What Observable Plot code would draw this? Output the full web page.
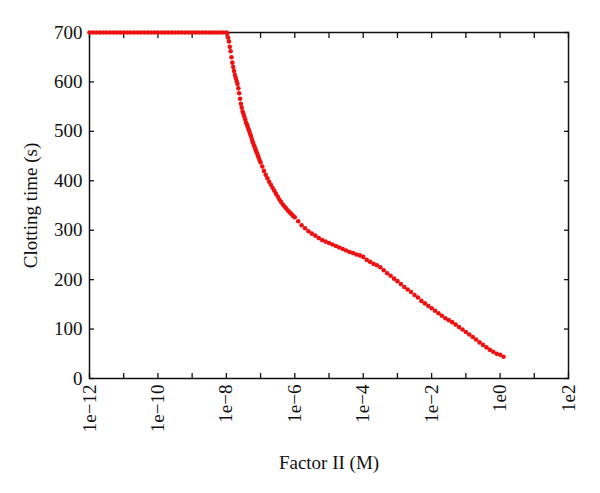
<!DOCTYPE html>
<html>
<head>
<meta charset="utf-8">
<script src="https://cdn.jsdelivr.net/npm/d3@7"></script>
<script src="https://cdn.jsdelivr.net/npm/@observablehq/plot@0.6"></script>
<style>
  html, body { margin: 0; padding: 0; background: #fff; }
  svg { display: block; }
</style>
</head>
<body>
<div id="chart"></div>
<script>
// log10 of Factor II concentration (M)
const exponents = [
  -12.0,-11.9,-11.8,-11.7,-11.6,-11.5,-11.4,-11.3,-11.2,-11.1,
  -11.0,-10.9,-10.8,-10.7,-10.6,-10.5,-10.4,-10.3,-10.2,-10.1,
  -10.0,-9.9,-9.8,-9.7,-9.6,-9.5,-9.4,-9.3,-9.2,-9.1,
  -9.0,-8.9,-8.8,-8.7,-8.6,-8.5,-8.4,-8.3,-8.2,-8.1,
  -8.0,
  -7.975,-7.95,-7.925,-7.9,-7.875,-7.85,-7.825,-7.8,-7.775,-7.75,
  -7.725,-7.7,-7.675,-7.65,-7.625,-7.6,-7.575,-7.55,-7.525,-7.5,
  -7.475,-7.45,-7.425,-7.4,-7.375,-7.35,-7.325,-7.3,-7.275,-7.25,
  -7.225,-7.2,-7.175,-7.15,-7.125,-7.1,-7.075,-7.05,-7.025,-7.0,
  -6.95,-6.9,-6.85,-6.8,-6.75,-6.7,-6.65,-6.6,-6.55,-6.5,
  -6.45,-6.4,-6.35,-6.3,-6.25,-6.2,-6.15,-6.1,-6.05,-6.0,
  -5.9,-5.8,-5.7,-5.6,-5.5,-5.4,-5.3,-5.2,-5.1,
  -5.0,-4.9,-4.8,-4.7,-4.6,-4.5,-4.4,-4.3,-4.2,-4.1,
  -4.0,-3.9,-3.8,-3.7,-3.6,-3.5,-3.4,-3.3,-3.2,-3.1,
  -3.0,-2.9,-2.8,-2.7,-2.6,-2.5,-2.4,-2.3,-2.2,-2.1,
  -2.0,-1.9,-1.8,-1.7,-1.6,-1.5,-1.4,-1.3,-1.2,-1.1,
  -1.0,-0.9,-0.8,-0.7,-0.6,-0.5,-0.4,-0.3,-0.2,-0.1,
  0.0,0.1
];
// clotting time (s)
const clottingTime = [
  700,700,700,700,700,700,700,700,700,700,
  700,700,700,700,700,700,700,700,700,700,
  700,700,700,700,700,700,700,700,700,700,
  700,700,700,700,700,700,700,700,700,700,
  700,
  698,690,682,671,662,650,639,630,622,614,
  608,602,596,587,577,566,556,548,540,535,
  530,524,518,514,509,504,499,494,489,483,
  478,473,469,464,459,455,450,446,441,437,
  429,420,412,405,398,392,386,380,374,368,
  362,357,352,348,344,340,336,333,329,326,
  318,310,304,298,293,289,284,280,277,
  274,271,268,265,262,259,256,254,251,249,
  246,240,236,232,229,225,219,213,208,202,
  197,191,185,180,175,169,164,157,152,147,
  142,137,132,127,122,118,114,109,104,99,
  94,89,84,79,73,68,63,58,54,50,
  48,44
];
const xTickExps = [-12,-10,-8,-6,-4,-2,0,2];
const xMinorExps = [-12,-11,-10,-9,-8,-7,-6,-5,-4,-3,-2,-1,0,1,2];
const yTicks = [0,100,200,300,400,500,600,700];
const xLabel = "Factor II (M)";
const yLabel = "Clotting time (s)";

const data = exponents.map((e, i) => ({conc: Math.pow(10, e), time: clottingTime[i]}));
const fmt = v => { const e = Math.round(Math.log10(v)); return "1e" + (e < 0 ? "\u2212" + (-e) : e); };
const blank = () => "";
const FS = 19;

const chart = Plot.plot({
  width: 600,
  height: 493,
  marginLeft: 89,
  marginRight: 32,
  marginTop: 32,
  marginBottom: 115,
  style: {fontFamily: "'Liberation Serif', 'DejaVu Serif', serif", fontSize: "19px", color: "#111", background: "#fff"},
  x: {type: "log", domain: [1e-12, 1e2]},
  y: {domain: [0, 700]},
  marks: [
    Plot.frame({stroke: "#111", strokeWidth: 1.5}),
    // inward ticks on all four sides
    Plot.axisX(xMinorExps.map(e => Math.pow(10, e)), {anchor: "bottom", tickSize: -5, tickFormat: blank, label: null, stroke: "#111", strokeWidth: 1.3}),
    Plot.axisX(xMinorExps.map(e => Math.pow(10, e)), {anchor: "top", tickSize: -5, tickFormat: blank, label: null, stroke: "#111", strokeWidth: 1.3}),
    Plot.axisY(yTicks, {anchor: "left", tickSize: -5, tickFormat: blank, label: null, stroke: "#111", strokeWidth: 1.3}),
    Plot.axisY(yTicks, {anchor: "right", tickSize: -5, tickFormat: blank, label: null, stroke: "#111", strokeWidth: 1.3}),
    // labels
    Plot.axisX(xTickExps.map(e => Math.pow(10, e)), {anchor: "bottom", tickSize: 0, tickPadding: 6, tickRotate: -90, tickFormat: fmt, fontSize: FS, label: xLabel, labelAnchor: "center", labelArrow: "none", labelOffset: 90, fill: "#111"}),
    Plot.axisY(yTicks, {anchor: "left", tickSize: 0, tickPadding: 7, fontSize: FS, label: yLabel, labelAnchor: "center", labelArrow: "none", labelOffset: 66, fill: "#111"}),
    Plot.dot(data, {x: "conc", y: "time", r: 2.3, fill: "#ee1111", stroke: null})
  ]
});
document.getElementById("chart").appendChild(chart);
</script>
</body>
</html>
